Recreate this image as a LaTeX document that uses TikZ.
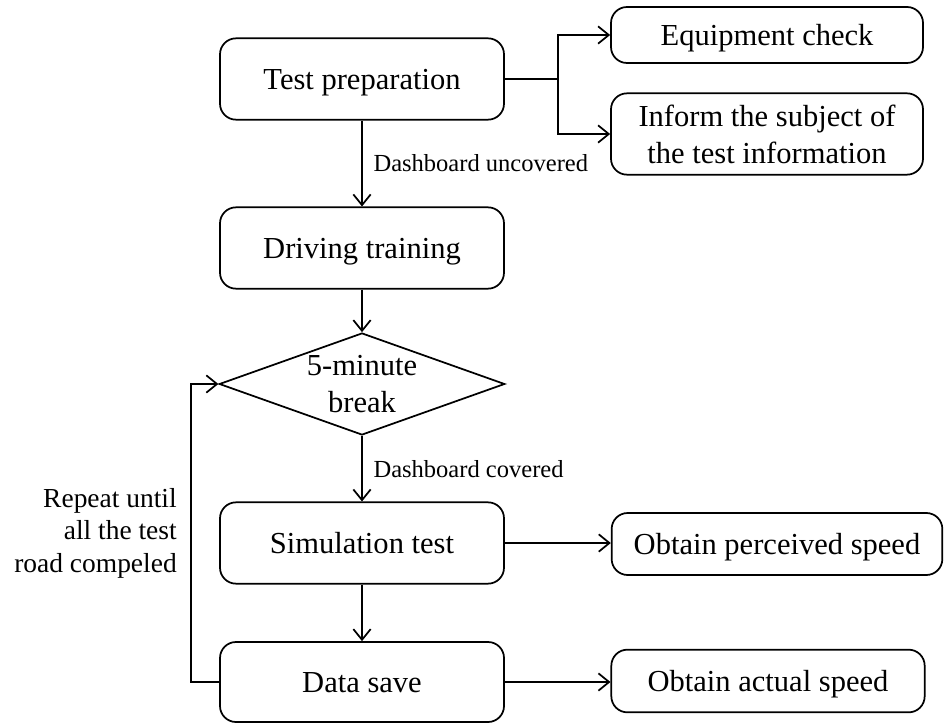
\documentclass[tikz,border=0pt]{standalone}
\usepackage{fontspec}
\setmainfont{Liberation Serif}
\usetikzlibrary{arrows.meta,shapes.geometric}
\newcommand{\strokewidth}{1.3pt}
\newcommand{\boxcorner}{12pt}
\newcommand{\mainfont}{\fontsize{22.9}{27.5}\selectfont}

\tikzset{
  stepbox/.style={draw, rounded corners=\boxcorner, line width=\strokewidth,
    align=center, inner sep=0pt, text depth=0pt, font=\mainfont},
  mainbox/.style={stepbox, minimum width=213pt, minimum height=61pt},
  sidebox/.style={stepbox, minimum width=234pt},
  decision/.style={draw, diamond, shape aspect=2.8, inner sep=1.5pt,
    line width=\strokewidth, align=center, font=\mainfont},
  flow/.style={line width=\strokewidth, -{Straight Barb[length=8pt,width=13pt]}},
  link/.style={line width=\strokewidth},
  note/.style={font=\fontsize{18.4}{22}\selectfont, anchor=west, inner xsep=8pt}
}

\begin{document}
\begin{tikzpicture}[x=0.75pt, y=-0.75pt]
\useasboundingbox (0,0) rectangle (945,723);
%main column
\node (prep) at (362, 79) [mainbox] {Test preparation};
\node (train) at (362, 248) [mainbox] {Driving training};
\node (break) at (362, 384) [decision] {5-minute\\break};
\node (sim) at (362, 543) [mainbox] {Simulation test};
\node (save) at (362, 682) [mainbox, minimum height=60pt] {Data save};
%side boxes
\node (check) at (767, 35) [sidebox, minimum height=42pt] {Equipment check};
\node (inform) at (767, 134) [sidebox, minimum height=61pt] {Inform the subject of\\the test information};
\node (perceived) at (777, 544) [stepbox, minimum width=248pt, minimum height=46.5pt] {Obtain perceived speed};
\node (actual) at (768, 681) [stepbox, minimum width=235pt, minimum height=47pt] {Obtain actual speed};
\node (repeat) at (177, 533) [anchor=east, align=right, inner sep=0pt,
  font=\fontsize{20.6}{24.4}\selectfont] {Repeat until\\all the test\\road compeled};
\coordinate (fork) at (558, 79);
\coordinate (back) at (191, 682);
%connectors
\draw[link] (prep.east) -- (fork);
\draw[flow] (fork) |- (check.west);
\draw[flow] (fork) |- (inform.west);
\draw[flow] (prep) -- (train) node[note, pos=0.5] {Dashboard uncovered};
\draw[flow] (train) -- (break);
\draw[flow] (break) -- (sim) node[note, pos=0.5] {Dashboard covered};
\draw[flow] (sim) -- (save);
\draw[flow] (sim.east) -- (sim.east -| perceived.west);
\draw[flow] (save.east) -- (save.east -| actual.west);
\draw[flow] (save.west) -- (back) |- (break.west);
\end{tikzpicture}
\end{document}
